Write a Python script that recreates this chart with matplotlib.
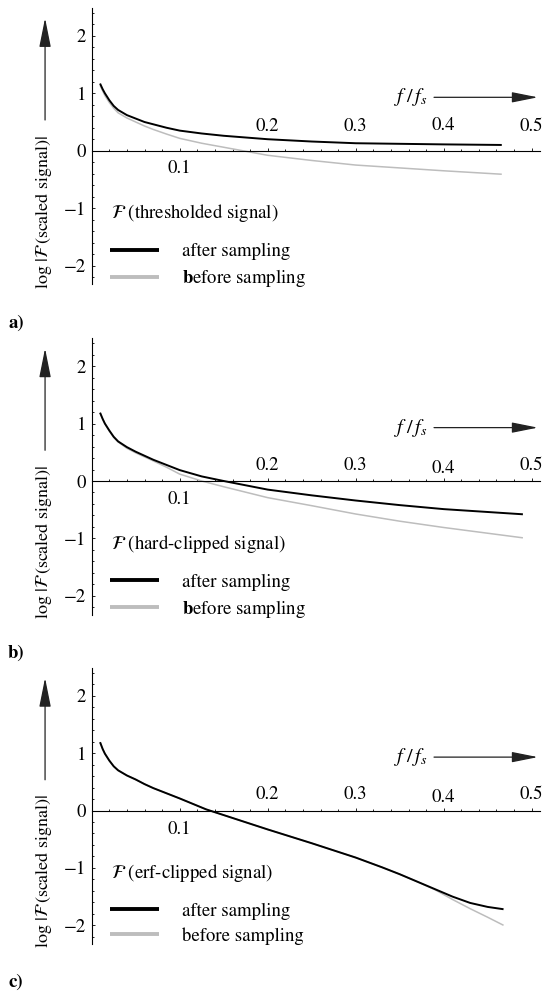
import matplotlib
matplotlib.use("Agg")
import matplotlib.pyplot as plt
from matplotlib.ticker import FixedLocator, MultipleLocator

plt.rcParams["font.family"] = ["STIXGeneral", "DejaVu Serif"]
plt.rcParams["mathtext.fontset"] = "stix"

# --- data ------------------------------------------------------------------
# a) thresholded signal
x_a = [0.0095, 0.0125, 0.015, 0.02, 0.025, 0.03, 0.04, 0.05, 0.06, 0.07, 0.085, 0.1,
       0.125, 0.15, 0.2, 0.25, 0.3, 0.35, 0.4, 0.466]
after_a = [1.17, 1.07, 1.00, 0.88, 0.78, 0.71, 0.62, 0.56, 0.50, 0.46, 0.40, 0.35,
           0.30, 0.26, 0.20, 0.16, 0.13, 0.12, 0.11, 0.10]
before_a = [1.14, 1.04, 0.96, 0.84, 0.74, 0.66, 0.57, 0.50, 0.43, 0.37, 0.29, 0.215,
            0.13, 0.06, -0.08, -0.17, -0.25, -0.30, -0.35, -0.41]

# b) hard-clipped signal
x_b = [0.0095, 0.0125, 0.015, 0.02, 0.025, 0.03, 0.04, 0.05, 0.06, 0.07, 0.085, 0.1,
       0.125, 0.15, 0.2, 0.25, 0.3, 0.35, 0.4, 0.45, 0.49]
after_b = [1.19, 1.08, 1.00, 0.88, 0.77, 0.69, 0.59, 0.51, 0.44, 0.37, 0.28, 0.19,
           0.08, 0.0, -0.15, -0.25, -0.34, -0.42, -0.49, -0.54, -0.58]
before_b = [1.19, 1.08, 1.00, 0.87, 0.76, 0.68, 0.57, 0.49, 0.42, 0.35, 0.24, 0.12,
            0.0, -0.10, -0.29, -0.43, -0.575, -0.70, -0.81, -0.91, -0.99]

# c) erf-clipped signal
x_c = [0.0095, 0.0125, 0.015, 0.02, 0.025, 0.03, 0.04, 0.05, 0.06, 0.07, 0.085, 0.1,
       0.13, 0.15, 0.2, 0.25, 0.3, 0.33, 0.35, 0.37, 0.39, 0.41, 0.43, 0.45, 0.468]
after_c = [1.19, 1.07, 0.99, 0.87, 0.77, 0.70, 0.61, 0.54, 0.46, 0.39, 0.30, 0.21,
           0.02, -0.08, -0.33, -0.57, -0.82, -0.99, -1.11, -1.24, -1.37, -1.50, -1.61, -1.68, -1.72]
before_c = [1.19, 1.07, 0.99, 0.87, 0.77, 0.70, 0.61, 0.54, 0.46, 0.39, 0.30, 0.21,
            0.02, -0.08, -0.33, -0.57, -0.82, -0.99, -1.11, -1.24, -1.38, -1.55, -1.71, -1.86, -2.00]

panel_x = [x_a, x_b, x_c]
panel_after = [after_a, after_b, after_c]
panel_before = [before_a, before_b, before_c]
panel_names = ["a)", "b)", "c)"]
legend_titles = [r"$\mathcal{F}$ (thresholded signal)",
                 r"$\mathcal{F}$ (hard-clipped signal)",
                 r"$\mathcal{F}$ (erf-clipped signal)"]
after_label = "after sampling"
before_labels = [r"$\mathbf{b}$efore sampling", r"$\mathbf{b}$efore sampling", "before sampling"]

xtick_values = [0.1, 0.2, 0.3, 0.4, 0.5]
xtick_labels = ["0.1", "0.2", "0.3", "0.4", "0.5"]
ytick_values = [-2, -1, 0, 1, 2]

# --- layout (pixels of the 542x991 reference) ------------------------------
W, H = 542, 991
X0_PX = 91.7
PX_PER_X = 880.0
PX_PER_Y = 57.4
Y0_PX = [150.7, 481.0, 810.5]
XLIM = (0, 0.509)
YLIM = (-2.33, 2.49)
FS = 13.5

# offsets (points) of the x tick labels from the axis, per panel
xlabel_offsets = [
    [-13, 17.3, 17.3, 18, 17.3],
    [-13, 11.5, 11.5, 9.4, 11.5],
    [-13.5, 11.5, 11.5, 9.4, 11.5],
]

BLACK = "#000000"
GREY = "#bdbdbd"


def make_axes(fig, y0px):
    left = X0_PX / W
    width = (XLIM[1] - XLIM[0]) * PX_PER_X / W
    top_px = y0px - YLIM[1] * PX_PER_Y
    height_px = (YLIM[1] - YLIM[0]) * PX_PER_Y
    bottom = 1 - (top_px + height_px) / H
    return fig.add_axes([left, bottom, width, height_px / H])


def draw_panel(ax, i):
    x = panel_x[i]
    l_before, = ax.plot(x, panel_before[i], color=GREY, lw=1.1, solid_capstyle="butt")
    l_after, = ax.plot(x, panel_after[i], color=BLACK, lw=1.4, solid_capstyle="butt")

    ax.set_xlim(*XLIM)
    ax.set_ylim(*YLIM)
    for side in ["top", "right"]:
        ax.spines[side].set_visible(False)
    ax.spines["bottom"].set_position(("data", 0))
    ax.spines["left"].set_position(("data", 0))
    for side in ["bottom", "left"]:
        ax.spines[side].set_linewidth(0.8)

    ax.xaxis.set_major_locator(FixedLocator(xtick_values))
    ax.xaxis.set_minor_locator(MultipleLocator(0.02))
    ax.yaxis.set_major_locator(FixedLocator(ytick_values))
    ax.yaxis.set_minor_locator(MultipleLocator(0.2))
    ax.tick_params(axis="x", which="both", direction="in", labelbottom=False, width=0.6)
    ax.tick_params(axis="x", which="major", length=2.4)
    ax.tick_params(axis="x", which="minor", length=1.4)
    ax.tick_params(axis="y", which="both", direction="in", width=0.6, pad=4, labelsize=FS)
    ax.tick_params(axis="y", which="major", length=2.4)
    ax.tick_params(axis="y", which="minor", length=1.4)

    # x tick labels: first below the axis, the rest above
    for val, lbl, off in zip(xtick_values, xtick_labels, xlabel_offsets[i]):
        ax.annotate(lbl, xy=(val, 0), xytext=(0, off), textcoords="offset points",
                    ha="center", va="center", fontsize=FS, annotation_clip=False)

    # axis titles with arrows
    ax.annotate("", xy=(-0.053, 2.31), xytext=(-0.053, 0.535),
                arrowprops=dict(arrowstyle="-|>,head_length=1.8,head_width=0.36",
                                mutation_scale=10, lw=0.9, color="#222222",
                                shrinkA=0, shrinkB=0),
                annotation_clip=False)
    ax.text(-0.055, -1.06, r"log |$\mathcal{F}\,$(scaled signal)|", rotation=90,
            ha="center", va="center", fontsize=13, clip_on=False)

    ax.annotate("", xy=(0.507, 0.93), xytext=(0.389, 0.93),
                arrowprops=dict(arrowstyle="-|>,head_length=1.6,head_width=0.32",
                                mutation_scale=10, lw=0.9, color="#222222",
                                shrinkA=0, shrinkB=0),
                annotation_clip=False)
    ax.text(0.381, 0.93, r"$f\;/\,f_s$", ha="right", va="center", fontsize=FS + 1)

    # legend: title as its own line of text, then the two samples
    ax.text(0.022, -1.09, legend_titles[i], ha="left", va="center", fontsize=FS)
    leg = ax.legend([l_after, l_before], [after_label, before_labels[i]],
                    loc="upper left",
                    bbox_to_anchor=(0.021, -1.61), bbox_transform=ax.transData,
                    frameon=False, fontsize=FS,
                    handlelength=2.6, handletextpad=1.25, labelspacing=0.38,
                    borderpad=0, borderaxespad=0)
    for ln in leg.get_lines():
        ln.set_linewidth(2.8)

    ax.text(-0.095, -3.0, panel_names[i], fontweight="bold", ha="left", va="center",
            fontsize=FS, clip_on=False)


fig = plt.figure(figsize=(W / 100, H / 100), dpi=100)
for i, y0 in enumerate(Y0_PX):
    ax = make_axes(fig, y0)
    draw_panel(ax, i)

fig.savefig("out.png", dpi=100)
